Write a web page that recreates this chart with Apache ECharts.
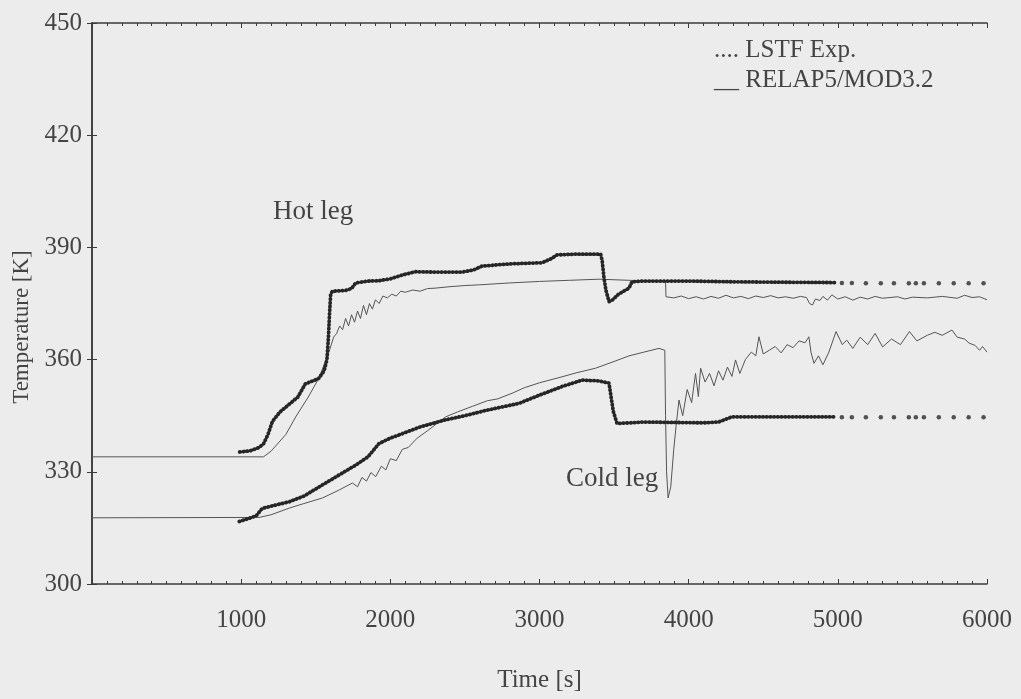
<!DOCTYPE html>
<html>
<head>
<meta charset="utf-8">
<script src="https://cdn.jsdelivr.net/npm/echarts@6/dist/echarts.min.js"></script>
<style>
  html, body { margin: 0; padding: 0; background: #ececec; }
  #chart { width: 1021px; height: 699px; }
</style>
</head>
<body>
<div id="chart"></div>
<script>
// tick labels
const xTicks = [1000, 2000, 3000, 4000, 5000, 6000]
const yTicks = [300, 330, 360, 390, 420, 450]

// Hot leg, LSTF experiment [time, K]
const hotExp = [
  [990, 335.3], [1060, 335.6], [1120, 336.5], [1150, 337.5], [1180, 340], [1210, 343.5],
  [1260, 346], [1320, 348], [1380, 350], [1430, 353.5], [1480, 354.3], [1520, 355],
  [1556, 357], [1575, 360], [1585, 366], [1592, 372], [1600, 377.5], [1612, 378.3],
  [1700, 378.5], [1740, 379], [1768, 380.5], [1850, 381], [1925, 381.1], [2000, 381.6],
  [2079, 382.6], [2170, 383.5], [2300, 383.4], [2481, 383.4], [2560, 384], [2615, 385],
  [2800, 385.6], [3018, 385.9], [3080, 387], [3118, 388], [3250, 388.2], [3410, 388.2],
  [3420, 386.5], [3432, 382], [3445, 378.6], [3466, 375.5], [3490, 376], [3530, 377.5],
  [3600, 379.1], [3620, 380.8], [3700, 381], [3800, 381], [4000, 381], [4300, 380.8],
  [4600, 380.7], [4984, 380.6]
]
// sparse samples after 5000 s
const hotExpTail = [
  [5027, 380.5], [5094, 380.5], [5188, 380.4], [5288, 380.4], [5376, 380.4], [5476, 380.4],
  [5523, 380.4], [5577, 380.4], [5677, 380.4], [5777, 380.4], [5877, 380.4], [5977, 380.4]
]

// Hot leg, RELAP5/MOD3.2
const hotSim = [
  [0, 334], [1150, 334], [1200, 335.5], [1300, 340], [1366, 344.7], [1450, 350],
  [1520, 355], [1580, 361], [1620, 366], [1640, 367], [1660, 369], [1680, 368],
  [1700, 371], [1720, 369], [1740, 372], [1760, 370], [1780, 373], [1800, 371],
  [1820, 374.5], [1840, 372], [1860, 375], [1880, 373.5], [1900, 376], [1925, 375],
  [1950, 377], [1980, 376.5], [2010, 377.5], [2040, 377], [2070, 378.3], [2100, 378],
  [2150, 378.6], [2200, 378.3], [2250, 379], [2300, 379.1], [2400, 379.5], [2500, 379.8],
  [2600, 380], [2800, 380.5], [3000, 380.9], [3200, 381.2], [3400, 381.5], [3600, 381.2],
  [3845, 380.8], [3848, 376.8], [3900, 376.5], [3950, 377], [4000, 376.3], [4050, 376.8],
  [4100, 376.2], [4150, 376.9], [4200, 376.4], [4250, 377.2], [4300, 376.5], [4350, 376.9],
  [4400, 376.3], [4450, 377], [4500, 376.6], [4550, 377.1], [4600, 376.5], [4650, 376.8],
  [4700, 376.4], [4750, 376.9], [4790, 376.6], [4810, 375], [4830, 374.6], [4850, 376.2],
  [4880, 375.8], [4900, 376.9], [4930, 375.9], [4960, 377.3], [5000, 376.2], [5050, 376.8],
  [5100, 375.9], [5150, 376.7], [5200, 376.2], [5250, 376.9], [5300, 376.4], [5400, 376.8],
  [5450, 376.2], [5500, 376.7], [5600, 376.5], [5700, 376.9], [5800, 376.4], [5850, 377.2],
  [5900, 376.6], [5950, 376.8], [6000, 376]
]

// Cold leg, LSTF experiment
const coldExp = [
  [987, 316.7], [1050, 317.5], [1100, 318.2], [1141, 320.2], [1200, 320.8], [1323, 322],
  [1420, 323.5], [1545, 326.5], [1650, 329], [1768, 331.8], [1850, 334], [1925, 337.6],
  [2000, 339], [2100, 340.5], [2200, 342], [2371, 343.9], [2500, 345], [2650, 346.5],
  [2863, 348.3], [3000, 350.5], [3151, 352.8], [3285, 354.5], [3400, 354.3], [3466, 353.7],
  [3480, 350], [3495, 346.1], [3520, 342.9], [3700, 343.3], [3900, 343.2], [4100, 343.1],
  [4200, 343.3], [4290, 344.7], [4600, 344.7], [4984, 344.7]
]
const coldExpTail = [
  [5027, 344.6], [5094, 344.6], [5188, 344.6], [5288, 344.6], [5376, 344.6], [5476, 344.6],
  [5523, 344.6], [5577, 344.6], [5677, 344.6], [5777, 344.6], [5877, 344.6], [5977, 344.6]
]

// Cold leg, RELAP5/MOD3.2
const coldSim = [
  [0, 317.7], [1120, 317.8], [1200, 318.5], [1323, 320.3], [1420, 321.5], [1545, 323],
  [1650, 325], [1746, 327], [1780, 326], [1810, 328.5], [1840, 327.5], [1870, 329.8],
  [1902, 328.7], [1940, 331.5], [1970, 330.5], [2000, 333.5], [2040, 333], [2080, 336],
  [2120, 336.5], [2180, 339], [2250, 341], [2371, 344.7], [2450, 346], [2550, 347.5],
  [2650, 349], [2720, 349.5], [2816, 351], [2900, 352.5], [3000, 353.8], [3151, 355.4],
  [3250, 356.5], [3376, 357.7], [3500, 359.5], [3600, 361], [3700, 362], [3801, 363],
  [3840, 362.5], [3845, 345], [3852, 330], [3862, 323], [3880, 326], [3900, 336],
  [3915, 342], [3935, 349.2], [3960, 345], [3990, 352], [4020, 348.5], [4046, 356.3],
  [4065, 350.1], [4080, 357.7], [4110, 354], [4140, 356.3], [4170, 353], [4200, 357],
  [4230, 354.5], [4260, 358], [4290, 355.5], [4314, 359.9], [4343, 356.3], [4380, 360],
  [4420, 362], [4450, 361], [4471, 366.1], [4500, 361.5], [4540, 362.5], [4580, 363.5],
  [4620, 361.8], [4660, 364], [4700, 363.2], [4740, 365], [4780, 364.5], [4806, 366.1],
  [4820, 362], [4840, 359], [4870, 361], [4900, 358.6], [4940, 362], [4988, 367.5],
  [5030, 364], [5060, 365.2], [5100, 363], [5150, 366], [5200, 364], [5250, 367],
  [5300, 363.4], [5360, 365.5], [5420, 364], [5480, 367.5], [5530, 365], [5600, 366.5],
  [5650, 367.3], [5700, 366.5], [5765, 367.9], [5800, 366], [5850, 365.5], [5880, 364.4],
  [5920, 363.8], [5950, 362.5], [5970, 363.5], [6000, 362]
]

const chart = echarts.init(document.getElementById('chart'))
const ink = '#3a3a3a'
const font = '"Liberation Serif", "DejaVu Serif", serif'

// experiment line: round dots packed close together
const expLine = (data) => ({
  type: 'line',
  data: data,
  showSymbol: false,
  lineStyle: { color: '#262626', width: 3.8, type: [0.5, 3.2], cap: 'round' },
})
const simLine = (data) => ({
  type: 'line',
  data: data,
  showSymbol: false,
  lineStyle: { color: '#555', width: 1 },
})
const tailDots = (data) => ({
  type: 'scatter',
  data: data,
  symbolSize: 4.5,
  itemStyle: { color: '#2a2a2a' },
})

const option = {
  animation: false,
  backgroundColor: '#ececec',
  textStyle: { fontFamily: font },
  grid: { left: 92, right: 34, top: 23, bottom: 115 },
  xAxis: [
    {
      type: 'value',
      min: 0,
      max: 6000,
      interval: 1000,
      name: 'Time [s]',
      nameLocation: 'middle',
      nameGap: 84,
      nameTextStyle: { fontSize: 25, color: '#444', fontFamily: font },
      axisLine: { lineStyle: { color: ink, width: 1.5 } },
      axisTick: { inside: true, length: 5, lineStyle: { color: ink } },
      minorTick: { show: true, splitNumber: 10, length: 3, lineStyle: { color: ink } },
      axisLabel: {
        margin: 24,
        fontSize: 25,
        color: '#444',
        fontFamily: font,
        formatter: (v) => (xTicks.includes(v) ? String(v) : ''),
      },
      splitLine: { show: false },
    },
    {
      type: 'value',
      position: 'top',
      min: 0,
      max: 6000,
      interval: 1000,
      axisLine: { lineStyle: { color: ink, width: 1.5 } },
      axisTick: { inside: true, length: 5, lineStyle: { color: ink } },
      minorTick: { show: true, splitNumber: 10, length: 3, lineStyle: { color: ink } },
      axisLabel: { show: false },
      splitLine: { show: false },
    },
  ],
  yAxis: [
    {
      type: 'value',
      min: 300,
      max: 450,
      interval: 30,
      axisLine: { show: true, lineStyle: { color: ink, width: 1.5 } },
      axisTick: { show: true, inside: true, length: 5, lineStyle: { color: ink } },
      axisLabel: {
        margin: 10,
        fontSize: 25,
        color: '#444',
        fontFamily: font,
        formatter: (v) => (yTicks.includes(v) ? String(v) : ''),
      },
      splitLine: { show: false },
    },
    {
      type: 'value',
      position: 'right',
      min: 300,
      max: 450,
      interval: 30,
      axisLine: { show: true, lineStyle: { color: ink, width: 1.5 } },
      axisTick: { show: true, inside: true, length: 5, lineStyle: { color: ink } },
      axisLabel: { show: false },
      splitLine: { show: false },
    },
  ],
  graphic: [
    {
      type: 'text',
      x: 22,
      y: 327,
      rotation: Math.PI / 2,
      style: {
        text: 'Temperature [K]',
        font: '23px ' + font,
        fill: '#444',
        align: 'center',
        verticalAlign: 'middle',
      },
    },
    {
      type: 'text',
      x: 273,
      y: 212,
      style: { text: 'Hot leg', font: '27px ' + font, fill: '#444', verticalAlign: 'middle' },
    },
    {
      type: 'text',
      x: 566,
      y: 479,
      style: { text: 'Cold leg', font: '27px ' + font, fill: '#444', verticalAlign: 'middle' },
    },
    {
      type: 'text',
      x: 714,
      y: 50,
      style: { text: '.... LSTF Exp.', font: '25px ' + font, fill: '#444', verticalAlign: 'middle' },
    },
    {
      type: 'text',
      x: 714,
      y: 80,
      style: { text: '__ RELAP5/MOD3.2', font: '25px ' + font, fill: '#444', verticalAlign: 'middle' },
    },
  ],
  series: [
    simLine(hotSim),
    simLine(coldSim),
    expLine(hotExp),
    expLine(coldExp),
    tailDots(hotExpTail),
    tailDots(coldExpTail),
  ],
}

chart.setOption(option)
</script>
</body>
</html>
